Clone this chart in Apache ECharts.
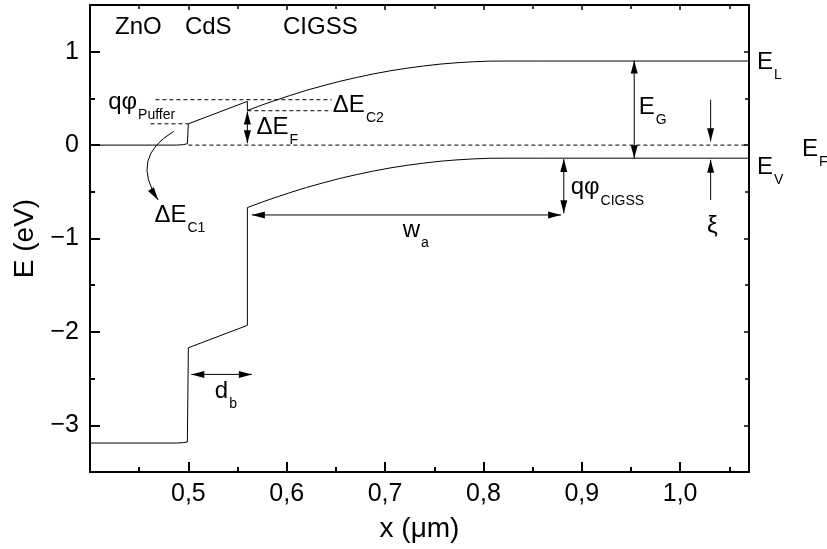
<!DOCTYPE html>
<html><head><meta charset="utf-8">
<script src="https://cdn.jsdelivr.net/npm/echarts@6/dist/echarts.min.js"></script>
<style>html,body{margin:0;padding:0;background:#fff}#c{width:827px;height:549px}</style>
</head><body><div id="c"></div>
<script>
// ---------- data ----------
const xTicks = [0.5, 0.6, 0.7, 0.8, 0.9, 1.0];
const xTickLabels = ['0,5', '0,6', '0,7', '0,8', '0,9', '1,0'];
const yTicks = [-3, -2, -1, 0, 1];
const yTickLabels = ['\u22123', '\u22122', '\u22121', '0', '1'];

// conduction band (E_L)
const conductionX = [0.40, 0.488, 0.495, 0.499, 0.500, 0.500, 0.560, 0.560, 0.575, 0.587, 0.603, 0.620, 0.637, 0.654, 0.671, 0.688, 0.705, 0.722, 0.739, 0.756, 0.772, 0.789, 0.806, 0.822, 0.86, 1.07];
const conductionE = [0, 0, 0.005, 0.015, 0.03, 0.228, 0.468, 0.371, 0.43, 0.474, 0.53, 0.586, 0.636, 0.683, 0.724, 0.762, 0.795, 0.823, 0.847, 0.867, 0.881, 0.892, 0.899, 0.90, 0.90, 0.90];
// valence band (E_V)
const valenceX = [0.40, 0.488, 0.495, 0.499, 0.500, 0.500, 0.560, 0.560, 0.575, 0.587, 0.603, 0.620, 0.637, 0.654, 0.671, 0.688, 0.705, 0.722, 0.739, 0.756, 0.772, 0.789, 0.806, 0.822, 0.86, 1.07];
const valenceE = [-3.19, -3.19, -3.185, -3.178, -3.17, -2.17, -1.93, -0.669, -0.61, -0.566, -0.51, -0.454, -0.404, -0.357, -0.316, -0.278, -0.245, -0.217, -0.193, -0.173, -0.159, -0.148, -0.141, -0.14, -0.14, -0.14];
// Fermi level (dashed)
const fermiX = [0.5, 1.113];
const fermiE = [0, 0];
// dashed guide lines
const pufferX = [0.4615, 0.5];
const pufferE = [0.228, 0.228];
const dEc2UpperX = [0.4665, 0.6457];
const dEc2UpperE = [0.486, 0.486];
const dEc2LowerX = [0.56, 0.6457];
const dEc2LowerE = [0.368, 0.368];

// arrows: [x1, y1, x2, y2, headAtStart, bend]
const arrowSegments = [
  [0.560, 0.360, 0.560, 0.020, 1, 0],
  [0.5646, -0.748, 0.879, -0.748, 1, 0],
  [0.8817, -0.150, 0.8817, -0.730, 1, 0],
  [0.9533, 0.905, 0.9533, -0.140, 1, 0],
  [1.031, 0.486, 1.031, 0.040, 0, 0],
  [1.031, -0.587, 1.031, -0.158, 0, 0],
  [0.503, -2.455, 0.5646, -2.455, 1, 0],
  [0.4851, 0.146, 0.4693, -0.587, 0, 0.53]
];

// annotation texts
const annotationMain = ['ZnO', 'CdS', 'CIGSS', 'qφ', 'ΔE', 'ΔE', 'ΔE', 'w', 'E', 'E', 'E', 'E', 'qφ', 'ξ', 'd'];
const annotationSub  = ['', '', '', 'Puffer', 'C2', 'F', 'C1', 'a', 'L', 'F', 'V', 'G', 'CIGSS', '', 'b'];
// annotation anchors (top-left of text, in data units)
const annotationX = [0.426, 0.497, 0.5967, 0.419, 0.6474, 0.5697, 0.466, 0.7184, 1.0787, 1.1243, 1.0787, 0.9584, 0.8892, 1.0277, 0.5274];
const annotationY = [1.385, 1.385, 1.385, 0.579, 0.547, 0.314, -0.63, -0.789, 1.012, 0.082, -0.115, 0.529, -0.333, -0.742, -2.509];

// ---------- chart ----------
const FONT = '"Liberation Sans", Arial, sans-serif';
const BLACK = '#000';
function pairs(xs, ys) { return xs.map((x, i) => [x, ys[i]]); }
function lineSeries(xs, ys, dashed) {
  return {
    type: 'line', data: pairs(xs, ys), symbol: 'none', showSymbol: false,
    clip: false, silent: true, animation: false, z: 3,
    lineStyle: { color: BLACK, width: 1, type: dashed ? [4, 3] : 'solid' },
    emphasis: { disabled: true }
  };
}
function fmtFrom(ticks, labels) {
  return function (v) {
    for (let i = 0; i < ticks.length; i++) if (Math.abs(v - ticks[i]) < 1e-6) return labels[i];
    return '';
  };
}
function head(tip, dir) {
  const len = Math.hypot(dir[0], dir[1]) || 1;
  const ux = dir[0] / len, uy = dir[1] / len;
  const L = 13, W = 3.5;
  const bx = tip[0] - ux * L, by = tip[1] - uy * L;
  return { type: 'polygon', shape: { points: [[tip[0], tip[1]], [bx - uy * W, by + ux * W], [bx + uy * W, by - ux * W]] },
    style: { fill: BLACK, stroke: null } };
}

const chart = echarts.init(document.getElementById('c'), null, { renderer: 'canvas' });

const baseAxisX = {
  type: 'value', min: 0.4, max: 1.07, splitNumber: 5, scale: true,
  splitLine: { show: false }
};
const baseAxisY = {
  type: 'value', min: -3.5, max: 1.5, splitNumber: 5, scale: true,
  splitLine: { show: false }
};

const option = {
  animation: false,
  backgroundColor: '#fff',
  grid: { left: 90, right: 78, top: 5, bottom: 77, containLabel: false, outerBoundsMode: 'none' },
  xAxis: [
    Object.assign({}, baseAxisX, {
      position: 'bottom',
      name: 'x (μm)', nameLocation: 'middle', nameGap: 43,
      nameTextStyle: { fontFamily: FONT, fontSize: 28, color: BLACK },
      axisLine: { show: true, onZero: false, lineStyle: { color: BLACK, width: 2 } },
      axisTick: { show: true, inside: true, length: 10, lineStyle: { color: BLACK, width: 2 } },
      minorTick: { show: true, splitNumber: 2, length: 5, lineStyle: { color: BLACK, width: 2 } },
      axisLabel: { show: true, margin: 10, fontFamily: FONT, fontSize: 25, color: BLACK, formatter: fmtFrom(xTicks, xTickLabels) }
    }),
    Object.assign({}, baseAxisX, {
      position: 'top',
      axisLine: { show: true, onZero: false, lineStyle: { color: BLACK, width: 2 } },
      axisTick: { show: true, inside: true, length: 5, lineStyle: { color: BLACK, width: 1.5 } },
      minorTick: { show: true, splitNumber: 2, length: 4, lineStyle: { color: BLACK, width: 1.5 } },
      axisLabel: { show: false }
    })
  ],
  yAxis: [
    Object.assign({}, baseAxisY, {
      position: 'left',
      name: 'E (eV)', nameLocation: 'middle', nameGap: 50, nameRotate: 90,
      nameTextStyle: { fontFamily: FONT, fontSize: 28, color: BLACK },
      axisLine: { show: true, onZero: false, lineStyle: { color: BLACK, width: 2 } },
      axisTick: { show: true, inside: true, length: 10, lineStyle: { color: BLACK, width: 2 } },
      minorTick: { show: true, splitNumber: 2, length: 5, lineStyle: { color: BLACK, width: 2 } },
      axisLabel: { show: true, margin: 11, fontFamily: FONT, fontSize: 25, color: BLACK, formatter: fmtFrom(yTicks, yTickLabels) }
    }),
    Object.assign({}, baseAxisY, {
      position: 'right',
      axisLine: { show: true, onZero: false, lineStyle: { color: BLACK, width: 2 } },
      axisTick: { show: true, inside: true, length: 5, lineStyle: { color: BLACK, width: 1.5 } },
      minorTick: { show: true, splitNumber: 2, length: 4, lineStyle: { color: BLACK, width: 1.5 } },
      axisLabel: { show: false }
    })
  ],
  series: [
    lineSeries(conductionX, conductionE, false),
    lineSeries(valenceX, valenceE, false),
    lineSeries(fermiX, fermiE, true),
    lineSeries(pufferX, pufferE, true),
    lineSeries(dEc2UpperX, dEc2UpperE, true),
    lineSeries(dEc2LowerX, dEc2LowerE, true),
    {
      type: 'custom', clip: false, silent: true, animation: false, z: 4,
      data: arrowSegments,
      encode: { x: [0, 2], y: [1, 3] },
      renderItem: function (params, api) {
        const p1 = api.coord([api.value(0), api.value(1)]);
        const p2 = api.coord([api.value(2), api.value(3)]);
        const both = api.value(4) > 0.5;
        const bend = api.value(5);
        const style = { stroke: BLACK, lineWidth: 1, fill: null };
        const children = [];
        const vx = p2[0] - p1[0], vy = p2[1] - p1[1];
        let tEnd, tStart;
        if (bend) {
          const mx = (p1[0] + p2[0]) / 2, my = (p1[1] + p2[1]) / 2;
          const cx = mx - bend * vy, cy = my + bend * vx;
          children.push({ type: 'bezierCurve', shape: { x1: p1[0], y1: p1[1], x2: p2[0], y2: p2[1], cpx1: cx, cpy1: cy }, style: style });
          tEnd = [p2[0] - cx, p2[1] - cy];
          tStart = [p1[0] - cx, p1[1] - cy];
        } else {
          children.push({ type: 'line', shape: { x1: p1[0], y1: p1[1], x2: p2[0], y2: p2[1] }, style: style });
          tEnd = [vx, vy];
          tStart = [-vx, -vy];
        }
        children.push(head(p2, tEnd));
        if (both) children.push(head(p1, tStart));
        return { type: 'group', children: children };
      }
    },
    {
      type: 'scatter', clip: false, silent: true, animation: false, z: 5,
      symbolSize: 1, itemStyle: { color: 'rgba(0,0,0,0)' },
      data: annotationX.map((x, i) => ({ value: [x, annotationY[i]], name: String(i) })),
      label: {
        show: true, position: [0, 0], align: 'left', verticalAlign: 'top', opacity: 1,
        formatter: function (p) {
          const i = +p.name;
          const s = annotationSub[i];
          return '{m|' + annotationMain[i] + '}' + (s ? '{s|' + s + '}' : '');
        },
        rich: {
          m: { fontFamily: FONT, fontSize: 24, lineHeight: 24, color: BLACK, verticalAlign: 'top' },
          s: { fontFamily: FONT, fontSize: 14, lineHeight: 14, color: BLACK, verticalAlign: 'top', padding: [18, 0, 0, 1] }
        }
      },
      emphasis: { disabled: true }
    }
  ]
};
chart.setOption(option);
</script>
</body></html>
